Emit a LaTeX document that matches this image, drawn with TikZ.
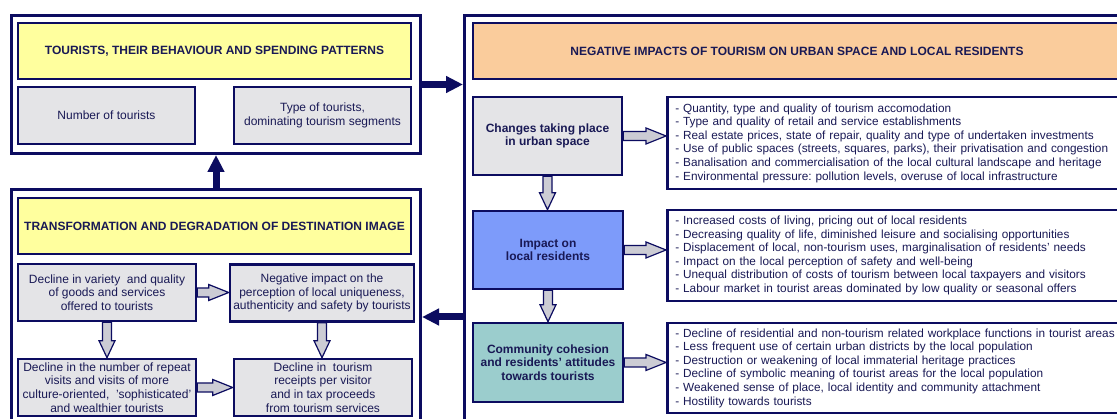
\documentclass[tikz,border=0pt]{standalone}
\usepackage{fontspec}
\setmainfont{Liberation Sans}
\frenchspacing
\definecolor{navyline}{RGB}{12, 12, 96}
\definecolor{navytext}{RGB}{25, 25, 85}
\definecolor{hlyellow}{RGB}{255, 255, 158}
\definecolor{boxgrey}{RGB}{228, 228, 231}
\definecolor{peach}{RGB}{250, 204, 156}
\definecolor{residblue}{RGB}{125, 155, 250}
\definecolor{commteal}{RGB}{155, 205, 205}
\definecolor{arrowgrey}{RGB}{204, 204, 212}
\usetikzlibrary{arrows.meta, positioning, calc}

\newcommand{\boxfont}{\fontsize{12}{13.6}\selectfont}
\newcommand{\listfont}{\fontsize{11.8}{13.6}\selectfont}

% hollow block arrows, start and end at the same height / abscissa
\newcommand{\hollowright}[2]{\draw[hollow] ($(#1)+(0,-4.5)$) -- ($(#2)+(-20,-4.5)$) -- ($(#2)+(-20,-8)$) -- (#2) -- ($(#2)+(-20,8)$) -- ($(#2)+(-20,4.5)$) -- ($(#1)+(0,4.5)$) -- cycle;}
\newcommand{\hollowdown}[2]{\draw[hollow] ($(#1)+(-4.5,0)$) -- ($(#2)+(-4.5,-17)$) -- ($(#2)+(-8,-17)$) -- (#2) -- ($(#2)+(8,-17)$) -- ($(#2)+(4.5,-17)$) -- ($(#1)+(4.5,0)$) -- cycle;}

\tikzset{
  frame/.style={draw=navyline, line width=3pt, fill=white, anchor=north west},
  headbox/.style={draw=navyline, line width=2.6pt, text=navytext, font=\boxfont\bfseries, align=center},
  greybox/.style={draw=navyline, line width=2.6pt, fill=boxgrey, text=navytext, font=\boxfont, align=center, minimum width=178pt, minimum height=57pt},
  stagebox/.style={draw=navyline, line width=2.6pt, text=navytext, font=\boxfont\bfseries, align=center, minimum width=150pt, minimum height=78pt},
  listbox/.style={draw=navyline, line width=2.6pt, fill=white, text=navytext, font=\listfont, align=left, anchor=west, text width=443pt, inner xsep=8pt, minimum height=91pt},
  hollow/.style={draw=navyline, line width=1.2pt, fill=arrowgrey},
  bigarrow/.style={draw=navyline, line width=7pt, -{Triangle[length=17pt, width=16pt]}}
}

\begin{document}
\begin{tikzpicture}[x=1pt, y=-1pt]
  \fill[white] (0,0) rectangle (1117,419);
  \useasboundingbox (0,0) rectangle (1117,419);
  \clip (0,0) rectangle (1117,419);

  % Tourists and spending
  \node[frame, minimum width=409pt, minimum height=138pt] (tourframe) at (10,14) {};
  \node[headbox, fill=hlyellow, minimum width=393pt, minimum height=56pt] (tourhead) at (214.5,51) {TOURISTS, THEIR BEHAVIOUR AND SPENDING PATTERNS};
  \node[greybox, minimum width=177pt] (numbox) at (106.5,115.5) {Number of tourists};
  \node[greybox, minimum width=177pt] (typebox) at (322.5,115.5) {Type of tourists,\\dominating tourism segments};

  % Destination image
  \node[frame, minimum width=409pt, minimum height=260pt] (imageframe) at (10,188) {};
  \node[headbox, fill=hlyellow, minimum width=393pt, minimum height=56pt] (imagehead) at (214.5,226) {TRANSFORMATION AND DEGRADATION OF DESTINATION IMAGE};
  \node[greybox] (varietybox) at (107,292.5) {Decline in variety~ and quality\\of goods and services\\offered to tourists};
  \node[greybox, minimum width=180pt] (uniqbox) at (322,293) {Negative impact on the\\perception of local uniqueness,\\authenticity and safety by tourists};
  \node[greybox] (repeatbox) at (107,387.5) {Decline in the number of repeat\\visits and visits of more\\culture-oriented,~ 'sophisticated'\\and wealthier tourists};
  \node[greybox] (receiptbox) at (323,387.5) {Decline in~ tourism\\receipts per visitor\\and in tax proceeds\\from tourism services};

  % Negative impacts
  \node[frame, minimum width=670pt, minimum height=440pt] (impactframe) at (463,14) {};
  \node[headbox, fill=peach, minimum width=648pt, minimum height=56pt] (neghead) at (797,51) {NEGATIVE IMPACTS OF TOURISM ON URBAN SPACE AND LOCAL RESIDENTS};
  \node[stagebox, fill=boxgrey, minimum width=149pt] (changebox) at (547.5,136) {Changes taking place\\in urban space};
  \node[stagebox, fill=residblue] (residbox) at (548,250) {Impact on\\local residents};
  \node[stagebox, fill=commteal, minimum height=79pt] (commbox) at (548,362.5) {Community cohesion\\and residents' attitudes\\towards tourists};

  \node[listbox, minimum height=92pt] (urbanlist) at (666,143) {%
    - Quantity, type and quality of tourism accomodation\\
    - Type and quality of retail and service establishments\\
    - Real estate prices, state of repair, quality and type of undertaken investments\\
    - Use of public spaces (streets, squares, parks), their privatisation and congestion\\
    - Banalisation and commercialisation of the local cultural landscape and heritage\\
    - Environmental pressure: pollution levels, overuse of local infrastructure};
  \node[listbox] (residlist) at (666,255.5) {%
    - Increased costs of living, pricing out of local residents\\
    - Decreasing quality of life, diminished leisure and socialising opportunities\\
    - Displacement of local, non-tourism uses, marginalisation of residents' needs\\
    - Impact on the local perception of safety and well-being\\
    - Unequal distribution of costs of tourism between local taxpayers and visitors\\
    - Labour market in tourist areas dominated by low quality or seasonal offers};
  \node[listbox, minimum height=90pt] (commlist) at (666,368) {%
    - Decline of residential and non-tourism related workplace functions in tourist areas\\
    - Less frequent use of certain urban districts by the local population\\
    - Destruction or weakening of local immaterial heritage practices\\
    - Decline of symbolic meaning of tourist areas for the local population\\
    - Weakened sense of place, local identity and community attachment\\
    - Hostility towards tourists};

  % heavy arrows between the panels
  \draw[bigarrow] (imageframe.north) -- (tourframe.south);
  \draw[bigarrow] (tourframe.east) -- (impactframe.west |- tourframe.east);
  \coordinate (backstart) at (impactframe.west |- 0,317);
  \coordinate (backend) at (imageframe.east |- 0,317);
  \draw[bigarrow] (backstart) -- (backend);

  % hollow arrows inside the panels
  \coordinate (a1) at (uniqbox.west |- varietybox.east);
  \hollowright{varietybox.east}{a1}
  \coordinate (a2) at (receiptbox.west |- repeatbox.east);
  \hollowright{repeatbox.east}{a2}
  \coordinate (a3) at (varietybox.south |- repeatbox.north);
  \hollowdown{varietybox.south}{a3}
  \coordinate (a4) at (uniqbox.south |- receiptbox.north);
  \hollowdown{uniqbox.south}{a4}

  \coordinate (b1) at (urbanlist.west |- changebox.east);
  \hollowright{changebox.east}{b1}
  \coordinate (b2) at (residlist.west |- residbox.east);
  \hollowright{residbox.east}{b2}
  \coordinate (b3) at (commlist.west |- commbox.east);
  \hollowright{commbox.east}{b3}
  \coordinate (b4) at (changebox.south |- residbox.north);
  \hollowdown{changebox.south}{b4}
  \coordinate (b5) at (residbox.south |- commbox.north);
  \hollowdown{residbox.south}{b5}
\end{tikzpicture}
\end{document}
